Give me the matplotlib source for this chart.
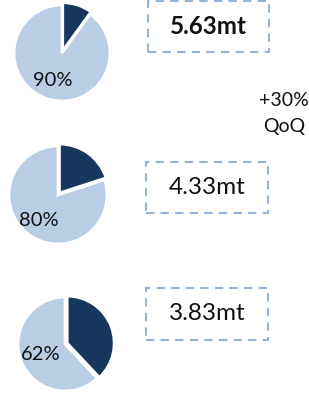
import matplotlib.pyplot as plt
from matplotlib.patches import Rectangle

# shares (light part, in %) and volumes for the three pies, top to bottom
shares = [90, 80, 62]
volumes = ['5.63mt', '4.33mt', '3.83mt']
bold_volume = [True, False, False]
growth_label = ['+30%', 'QoQ']

W, H = 309, 394
dark = '#17375E'
light = '#B9CDE5'
box_col = '#95B3D7'
font = 'Lato'

fig = plt.figure(figsize=(W / 100, H / 100), dpi=100)
ax = fig.add_axes([0, 0, 1, 1])

# pixel layout (top-left origin), converted to y-up below
pie_pos = [(62, 53, 48), (58, 195, 49), (65, 344, 47)]
pct_pos = [(53, 80), (39, 220), (41, 355)]
box_pos = [(148, 1, 121, 51), (146, 162, 122, 51), (146, 288, 122, 52)]

for i, share in enumerate(shares):
	cx, cy, r = pie_pos[i]
	ax.pie([100 - share, share], colors=[dark, light], startangle=90,
		counterclock=False, center=(cx, H - cy), radius=r,
		explode=[r * 0.05, 0], frame=True,
		wedgeprops=dict(edgecolor='white', linewidth=2))
	px, py = pct_pos[i]
	ax.text(px, H - py, '%d%%' % share, ha='center', va='center',
		fontsize=14.5, family=font, color='#111111')

	bx, by, bw, bh = box_pos[i]
	ax.add_patch(Rectangle((bx, H - by - bh), bw, bh, fill=False,
		edgecolor=box_col, lw=1.5, ls=(0, (4, 3))))
	ax.text(bx + bw / 2, H - by - bh / 2, volumes[i], ha='center', va='center',
		fontsize=17.5, family=font, color='#111111',
		fontweight='bold' if bold_volume[i] else 'normal')

ax.text(284, H - 100, growth_label[0], ha='center', va='center', fontsize=14,
	family=font, color='#111111')
ax.text(284, H - 126, growth_label[1], ha='center', va='center', fontsize=14,
	family=font, color='#111111')

ax.set_xlim(0, W)
ax.set_ylim(0, H)
ax.set_aspect('equal')
ax.axis('off')
fig.savefig('out.png', dpi=100)
